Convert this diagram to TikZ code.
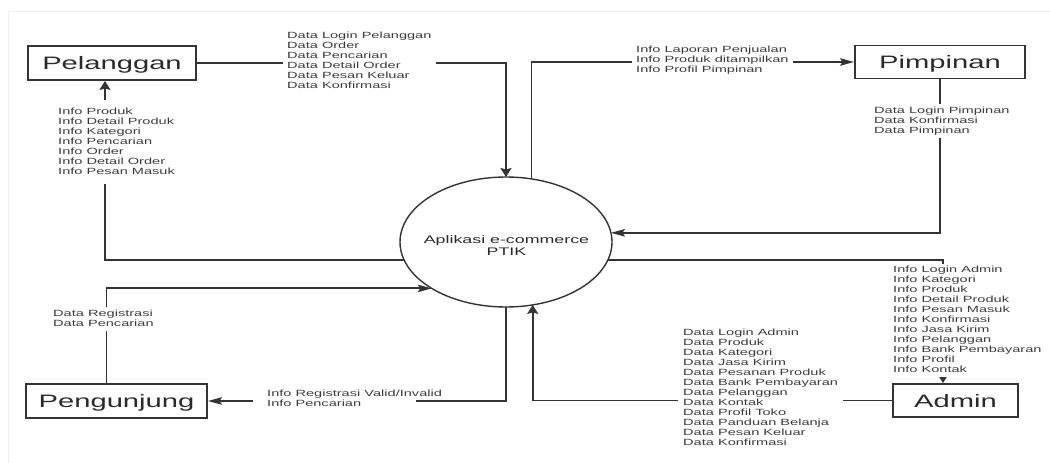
\documentclass[tikz,border=0pt]{standalone}
\usepackage{fontspec}
\usepackage{graphicx}
\setmainfont{Liberation Sans}
\usetikzlibrary{shapes.geometric,arrows.meta}

\definecolor{inkc}{HTML}{333333}
\definecolor{boxc}{HTML}{333333}
\definecolor{labtext}{HTML}{3C3C3C}
\definecolor{bigtext}{HTML}{2A2A2A}
\definecolor{framec}{HTML}{EDEDED}

% wide lettering used throughout the diagram
\newcommand\stretchx[1]{\scalebox{1.62}[1]{#1}}
\newcommand\labrows[1]{\stretchx{\begin{tabular}[t]{@{}l@{}}#1\end{tabular}}}

\begin{document}
\begin{tikzpicture}[x=1pt,y=-1pt,
  entity/.style={draw=boxc, line width=1.9pt, fill=white, minimum height=34pt,
    inner sep=0pt, text height=13pt, text depth=0pt,
    font=\fontsize{18}{20}\selectfont, text=bigtext},
  flow/.style={draw=inkc, line width=1.8pt},
  hin/.style={flow, -{Stealth[length=14pt,width=7.5pt,inset=2.5pt]}},
  vin/.style={flow, -{Stealth[length=9pt,width=11pt,inset=1.5pt]}},
  lab/.style={fill=white, inner xsep=4pt, inner ysep=3pt, anchor=base west,
    font=\fontsize{9}{10}\selectfont, text=labtext},
]
\useasboundingbox (0,0) rectangle (1050,463);
\fill[white] (0,0) rectangle (1050,463);
\draw[framec, line width=0.8pt] (8,463) -- (8,11) -- (1050,11);

% external entities
\node[entity, minimum width=168pt] (pel) at (112,63) {\stretchx{Pelanggan}};
\node[entity, minimum width=170pt, minimum height=33pt] (pim) at (940,62) {\stretchx{Pimpinan}};
\node[entity, minimum width=125pt, minimum height=33pt] (adm) at (955.5,400.5) {\stretchx{Admin}};
\node[entity, minimum width=181pt] (pen) at (116.5,401) {\stretchx{Pengunjung}};

% the process
\node[ellipse, draw=inkc, line width=1.4pt, minimum width=212pt, minimum height=130pt,
  inner sep=0pt, outer sep=0pt] (circ) at (506,242) {};
\node[anchor=base, inner sep=0pt, font=\fontsize{11}{11.7}\selectfont, text=bigtext] (circtxt)
  at (506.5,243.3) {\stretchx{\begin{tabular}[t]{@{}c@{}}Aplikasi e-commerce\\PTIK\end{tabular}}};

% free ends of the split Pengunjung flow
\coordinate (pgA) at (416,401);
\coordinate (pgB) at (253,401);

% data flows
\draw[vin] (pel.east) -| (circ.north);
\draw[hin] (circ.68.4) |- (pim.west);
\draw[vin] (circ.190) -| ([xshift=-7pt]pel.south);
\draw[hin] (pim.south) |- (circ.5.46);
\draw[vin] (circ.350) -| ([xshift=-12.5pt]adm.north);
\draw[vin] (adm.west) -| (circ.293.2);
\draw[flow] (circ.south) |- (pgA);
\draw[hin] (pgB) -- (pen.east);
\draw[hin] ([xshift=-10pt]pen.north) |- (circ.212.7);

% flow labels
\node[lab] (lpelin) at (283,38.2) {\labrows{Data Login Pelanggan\\Data Order\\Data Pencarian\\Data Detail Order\\Data Pesan Keluar\\Data Konfirmasi}};
\node[lab, inner ysep=7pt] (lpelout) at (54,114.2) {\labrows{Info Produk\\Info Detail Produk\\Info Kategori\\Info Pencarian\\Info Order\\Info Detail Order\\Info Pesan Masuk}};
\node[lab] (lpimout) at (632,52.2) {\labrows{Info Laporan Penjualan\\Info Produk ditampilkan\\Info Profil Pimpinan}};
\node[lab, inner ysep=2pt] (lpimin) at (870,113.2) {\labrows{Data Login Pimpinan\\Data Konfirmasi\\Data Pimpinan}};
\node[lab, inner ysep=1.5pt] (ladmout) at (889,272.2) {\labrows{Info Login Admin\\Info Kategori\\Info Produk\\Info Detail Produk\\Info Pesan Masuk\\Info Konfirmasi\\Info Jasa Kirim\\Info Pelanggan\\Info Bank Pembayaran\\Info Profil\\Info Kontak}};
\node[lab, inner xsep=5pt] (ladmin) at (678,335.2) {\labrows{Data Login Admin\\Data Produk\\Data Kategori\\Data Jasa Kirim\\Data Pesanan Produk\\Data Bank Pembayaran\\Data Pelanggan\\Data Kontak\\Data Profil Toko\\Data Panduan Belanja\\Data Pesan Keluar\\Data Konfirmasi}};
\node[lab, inner ysep=2pt] (lpenin) at (49,316.2) {\labrows{Data Registrasi\\Data Pencarian}};
\node[lab, fill=none] (lpenout) at (263,396.6) {\labrows{Info Registrasi Valid/Invalid\\Info Pencarian}};
\end{tikzpicture}
\end{document}
